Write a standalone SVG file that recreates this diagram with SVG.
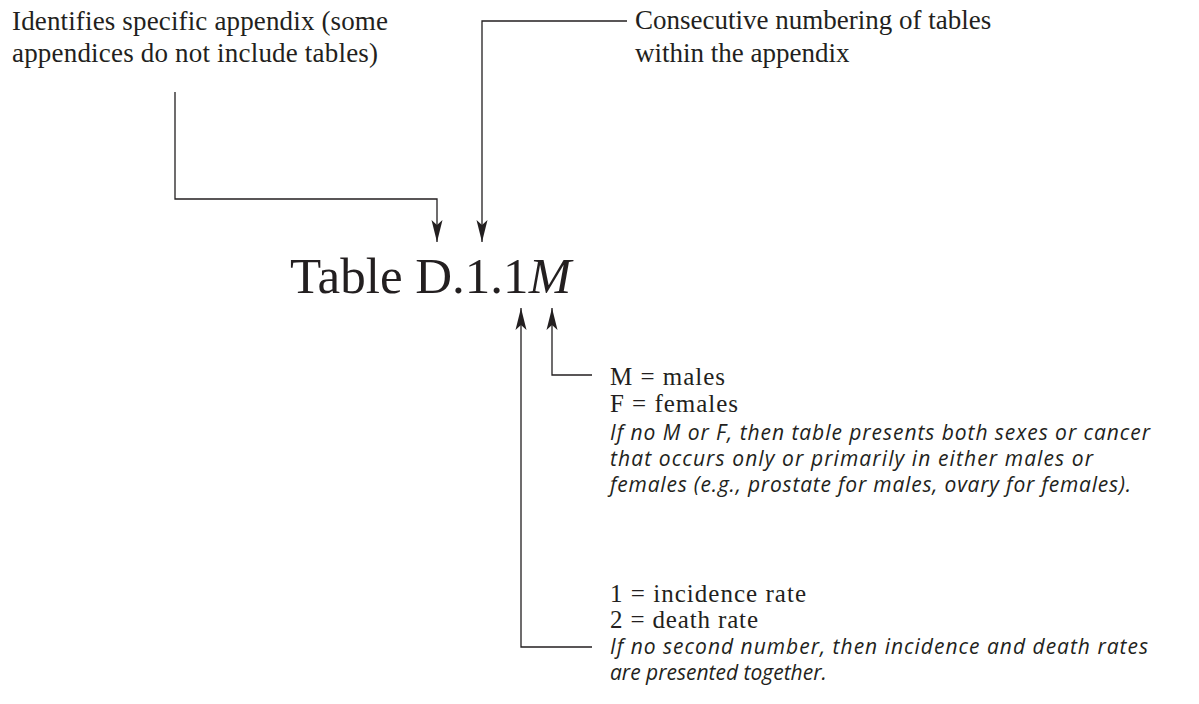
<svg xmlns="http://www.w3.org/2000/svg" width="1199" height="704" viewBox="0 0 1199 704">
<defs>
<style>
.serif{font-family:"Liberation Serif","Times New Roman",serif;fill:#231f20;}
.lbl{font-size:27px;}
.sm{font-size:25px;}
.title{font-size:51px;}
.it{font-family:"Open Sans","Liberation Sans",sans-serif;font-style:italic;font-size:21px;fill:#231f20;}
.conn{fill:none;stroke:#231f20;stroke-width:1.3;}
</style>
<marker id="arr" markerUnits="userSpaceOnUse" markerWidth="24" markerHeight="14" viewBox="0 -7 24 14" refX="22" refY="0" orient="auto">
<path d="M22,0 L0,-5.5 L5,0 L0,5.5 Z" fill="#231f20"/>
</marker>
</defs>
<rect width="1199" height="704" fill="#ffffff"/>
<g id="connectors">
<path class="conn" d="M175,92 V199 H437 V242" marker-end="url(#arr)"/>
<path class="conn" d="M627,21 H482 V242" marker-end="url(#arr)"/>
<path class="conn" d="M592,375 H552 V308" marker-end="url(#arr)"/>
<path class="conn" d="M592,647 H521 V308" marker-end="url(#arr)"/>
</g>
<g id="title">
<text class="serif title" x="290" y="293">Table D.1.1<tspan font-style="italic">M</tspan></text>
</g>
<g id="appendix-note">
<text class="serif lbl" x="12" y="30" textLength="376">Identifies specific appendix (some</text>
<text class="serif lbl" x="12" y="62" textLength="366">appendices do not include tables)</text>
</g>
<g id="numbering-note">
<text class="serif lbl" x="635" y="29">Consecutive numbering of tables</text>
<text class="serif lbl" x="635" y="62">within the appendix</text>
</g>
<g id="sex-note">
<text class="serif sm" x="610" y="385" textLength="115">M = males</text>
<text class="serif sm" x="610" y="412" textLength="128">F = females</text>
<text class="it" x="610" y="440" textLength="540">If no M or F, then table presents both sexes or cancer</text>
<text class="it" x="610" y="466" textLength="483">that occurs only or primarily in either males or</text>
<text class="it" x="610" y="492" textLength="521">females (e.g., prostate for males, ovary for females).</text>
</g>
<g id="rate-note">
<text class="serif sm" x="610" y="602" textLength="196">1 = incidence rate</text>
<text class="serif sm" x="610" y="628" textLength="148">2 = death rate</text>
<text class="it" x="610" y="654" textLength="538">If no second number, then incidence and death rates</text>
<text class="it" x="610" y="680">are presented together.</text>
</g>
</svg>
